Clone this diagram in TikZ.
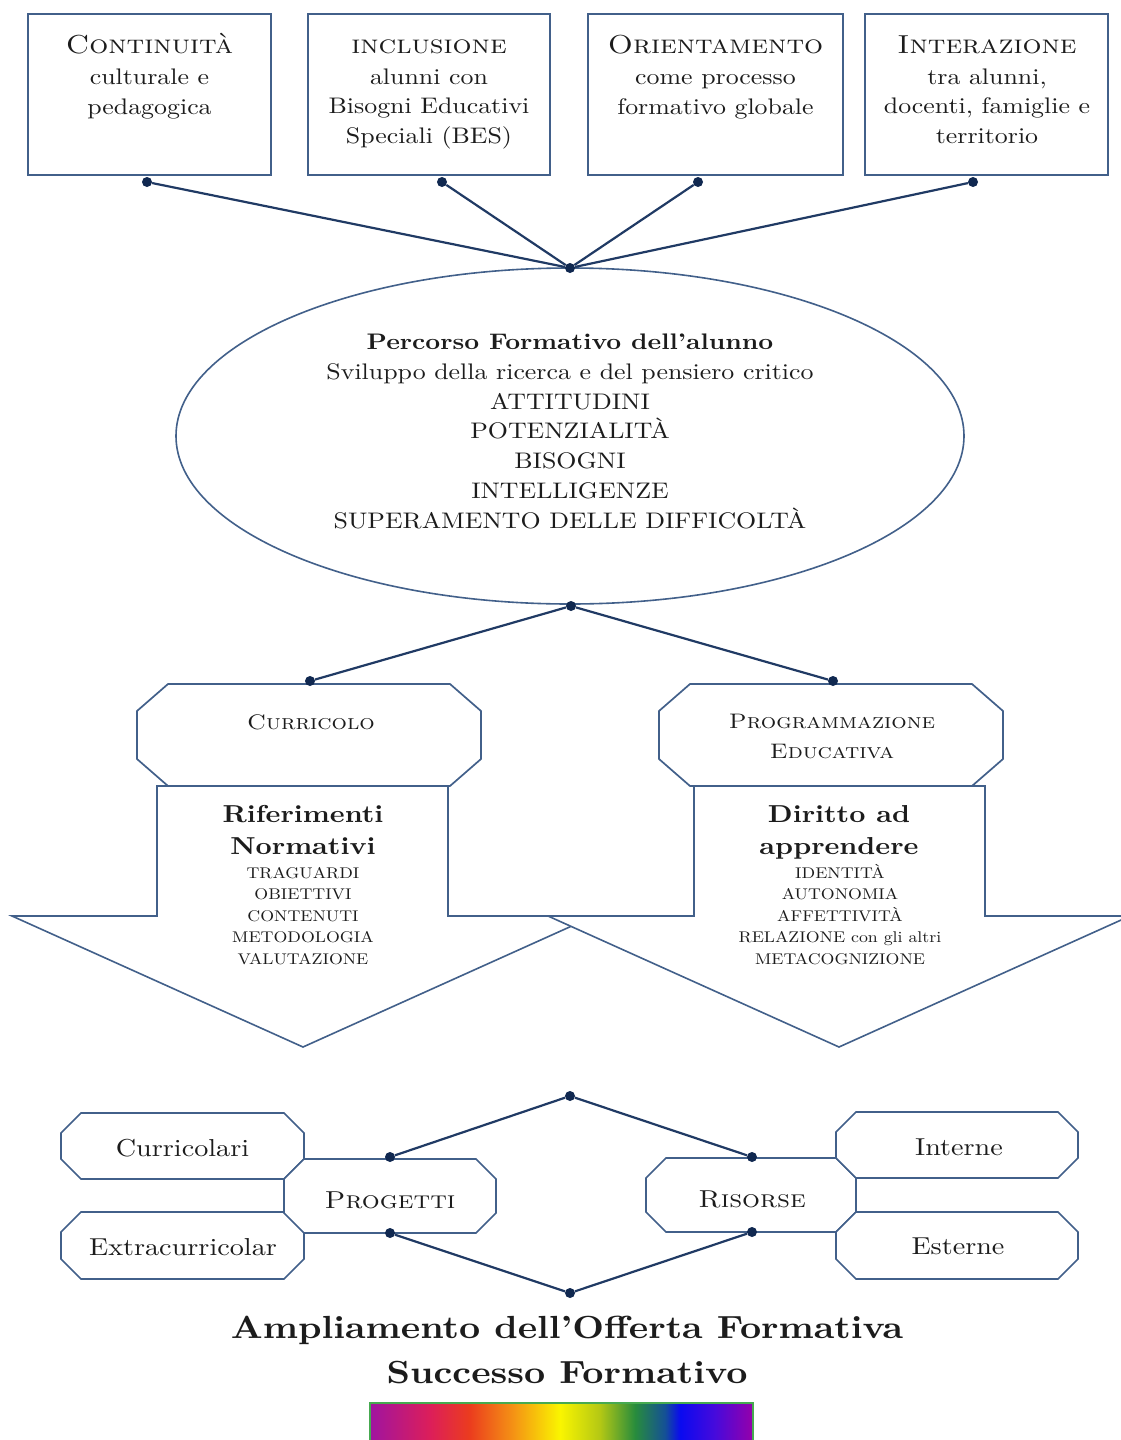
\documentclass[tikz,border=0pt]{standalone}
\usepackage{fontspec}
\setmainfont{lmroman10-regular.otf}[BoldFont=lmroman10-bold.otf, ItalicFont=lmroman10-italic.otf, SmallCapsFont=lmromancaps10-regular.otf, FakeStretch=1.15]
\usetikzlibrary{shapes.geometric}
\definecolor{boxc}{RGB}{66,96,138}
\definecolor{linec}{RGB}{32,58,100}
\definecolor{dotc}{RGB}{16,40,80}
\definecolor{txtc}{RGB}{28,28,28}
\definecolor{rbedge}{RGB}{70,170,80}
\definecolor{rba}{RGB}{160,20,160}
\definecolor{rbb}{RGB}{220,30,90}
\definecolor{rbc}{RGB}{235,60,30}
\definecolor{rbd}{RGB}{245,150,20}
\definecolor{rbe}{RGB}{250,245,0}
\definecolor{rbf}{RGB}{180,200,20}
\definecolor{rbg}{RGB}{40,140,60}
\definecolor{rbh}{RGB}{20,80,150}
\definecolor{rbi}{RGB}{10,10,240}
\definecolor{rbj}{RGB}{70,10,220}
\definecolor{rbk}{RGB}{150,0,170}
\pgfdeclarehorizontalshading{rainbowbar}{100bp}{color(0bp)=(rba); color(25bp)=(rba); color(32.8bp)=(rbb); color(38bp)=(rbc); color(43.9bp)=(rbd); color(49.8bp)=(rbe); color(55bp)=(rbf); color(59.6bp)=(rbg); color(63.5bp)=(rbh); color(65.5bp)=(rbi); color(70bp)=(rbj); color(75bp)=(rbk); color(100bp)=(rbk)}
\newcommand{\myoct}[6]{%
  \filldraw[octo] (#1+#5,#2) -- (#3-#5,#2) -- (#3,#2+#6) -- (#3,#4-#6) -- (#3-#5,#4) -- (#1+#5,#4) -- (#1,#4-#6) -- (#1,#2+#6) -- cycle;}
\tikzset{
  tbox/.style={draw=boxc, fill=white, line width=1.8pt, inner sep=0pt},
  octo/.style={draw=boxc, fill=white, line width=1.7pt, line join=miter},
  arrowshape/.style={draw=boxc, fill=white, line width=1.6pt, line join=miter},
  dot/.style={circle, fill=dotc, inner sep=0pt, minimum size=10pt},
  conn/.style={draw=linec, line width=2.2pt},
  txt/.style={text=txtc, inner sep=0pt, align=center, anchor=base},
  bodyf/.style={font=\fontsize{22.5}{29.3}\selectfont},
  ellf/.style={font=\fontsize{22.5}{29.7}\selectfont},
  octf/.style={font=\fontsize{21}{30}\selectfont},
  headf/.style={font=\bfseries\fontsize{24.5}{32}\selectfont},
  listf/.style={font=\fontsize{15.5}{21.5}\selectfont},
  lowf/.style={font=\fontsize{24.5}{30}\selectfont},
  titlef/.style={font=\bfseries\fontsize{32}{45}\selectfont}
}
\begin{document}
\begin{tikzpicture}[x=1pt,y=-1pt]
\useasboundingbox (0,0) rectangle (1121,1440);
\clip (0,0) rectangle (1121,1440);
\fill[white] (0,0) rectangle (1121,1440);

% top boxes
\node[tbox, minimum width=243pt, minimum height=161pt] (bx1) at (149.5,94.5) {};
\node[tbox, minimum width=242pt, minimum height=161pt] (bx2) at (429,94.5) {};
\node[tbox, minimum width=255pt, minimum height=161pt] (bx3) at (715.5,94.5) {};
\node[tbox, minimum width=243pt, minimum height=161pt] (bx4) at (986.5,94.5) {};

% (multi-line nodes: base = baseline of last line)
\node[txt, bodyf] (tx1) at (149.5,114) {{\fontsize{26}{30}\selectfont\textsc{Continuità}}\\[1.7pt]culturale e\\pedagogica};
\node[txt, bodyf] (tx2) at (429,143) {{\fontsize{26}{30}\selectfont\textsc{inclusione}}\\[1.7pt]alunni con\\Bisogni Educativi\\Speciali (BES)};
\node[txt, bodyf] (tx3) at (715.5,114) {{\fontsize{26}{30}\selectfont\textsc{Orientamento}}\\[1.7pt]come processo\\formativo globale};
\node[txt, bodyf] (tx4) at (987,143) {{\fontsize{26}{30}\selectfont\textsc{Interazione}}\\[1.7pt]tra alunni,\\docenti, famiglie e\\territorio};

% down arrows
\path[arrowshape] (157,786) -- (448,786) -- (448,916) -- (594,916) -- (303,1047) -- (12,916) -- (157,916) -- cycle;
\path[arrowshape] (694,786) -- (985,786) -- (985,916) -- (1130,916) -- (839,1047) -- (548,916) -- (694,916) -- cycle;

% octagons middle
\myoct{137}{684}{481}{786}{31}{27}
\myoct{659}{684}{1003}{786}{31}{27}

% ellipse
\node[draw=boxc, line width=1.6pt, ellipse, inner sep=0pt, minimum width=788pt, minimum height=336pt] (ell) at (570,436) {};
\node[txt, ellf] (etx) at (570,528) {\textbf{Percorso Formativo dell'alunno}\\Sviluppo della ricerca e del pensiero critico\\ATTITUDINI\\POTENZIALITÀ\\BISOGNI\\INTELLIGENZE\\SUPERAMENTO DELLE DIFFICOLTÀ};

% bottom octagons
\myoct{61}{1113}{304}{1179}{20}{20}
\myoct{61}{1212}{304}{1279}{20}{20}
\myoct{284}{1159}{496}{1233}{20}{20}
\myoct{646}{1158}{856}{1232}{20}{20}
\myoct{836}{1112}{1078}{1178}{20}{20}
\myoct{836}{1212}{1078}{1279}{20}{20}

% dots
\node[dot] (d1) at (147,182) {};
\node[dot] (d2) at (442,182) {};
\node[dot] (d3) at (698,182) {};
\node[dot] (d4) at (973,182) {};
\node[dot] (hub1) at (570,268) {};
\node[dot] (hub2) at (571,606) {};
\node[dot] (dc) at (310,681) {};
\node[dot] (dp) at (833,681) {};
\node[dot] (hub3) at (570,1096) {};
\node[dot] (hub4) at (570,1293) {};
\node[dot] (pg1) at (390,1157) {};
\node[dot] (pg2) at (390,1233) {};
\node[dot] (rs1) at (752,1157) {};
\node[dot] (rs2) at (752,1232) {};

% connectors
\draw[conn] (d1) -- (hub1);
\draw[conn] (d2) -- (hub1);
\draw[conn] (d3) -- (hub1);
\draw[conn] (d4) -- (hub1);
\draw[conn] (hub2) -- (dc);
\draw[conn] (hub2) -- (dp);
\draw[conn] (hub3) -- (pg1);
\draw[conn] (hub3) -- (rs1);
\draw[conn] (pg2) -- (hub4);
\draw[conn] (rs2) -- (hub4);

% middle texts
\node[txt, octf] (cur) at (311,729) {\textsc{Curricolo}};
\node[txt, octf] (prg) at (832,758) {\textsc{Programmazione}\\\textsc{Educativa}};
\node[txt, headf] (rif) at (303,854) {Riferimenti\\Normativi};
\node[txt, listf] (rifl) at (303,964) {TRAGUARDI\\OBIETTIVI\\CONTENUTI\\METODOLOGIA\\VALUTAZIONE};
\node[txt, headf] (dir) at (839,854) {Diritto ad\\apprendere};
\node[txt, listf] (dirl) at (840,964) {IDENTITÀ\\AUTONOMIA\\AFFETTIVITÀ\\RELAZIONE con gli altri\\METACOGNIZIONE};

% bottom texts
\node[txt, lowf] (lc) at (182.5,1156) {Curricolari};
\node[txt, lowf] (le) at (183,1255) {Extracurricolar};
\node[txt, lowf] (lp) at (390,1208) {\textsc{Progetti}};
\node[txt, lowf] (lr) at (752,1207) {\textsc{Risorse}};
\node[txt, lowf] (li) at (959,1155) {Interne};
\node[txt, lowf] (ls) at (958,1254) {Esterne};

\node[txt, titlef] (ttl) at (567,1383) {Ampliamento dell'Offerta Formativa\\Successo Formativo};

% rainbow bar
\shade[shading=rainbowbar] (370,1403) rectangle (753,1446);
\draw[draw=rbedge, line width=1.5pt] (370,1403) rectangle (753,1446);
\end{tikzpicture}
\end{document}
